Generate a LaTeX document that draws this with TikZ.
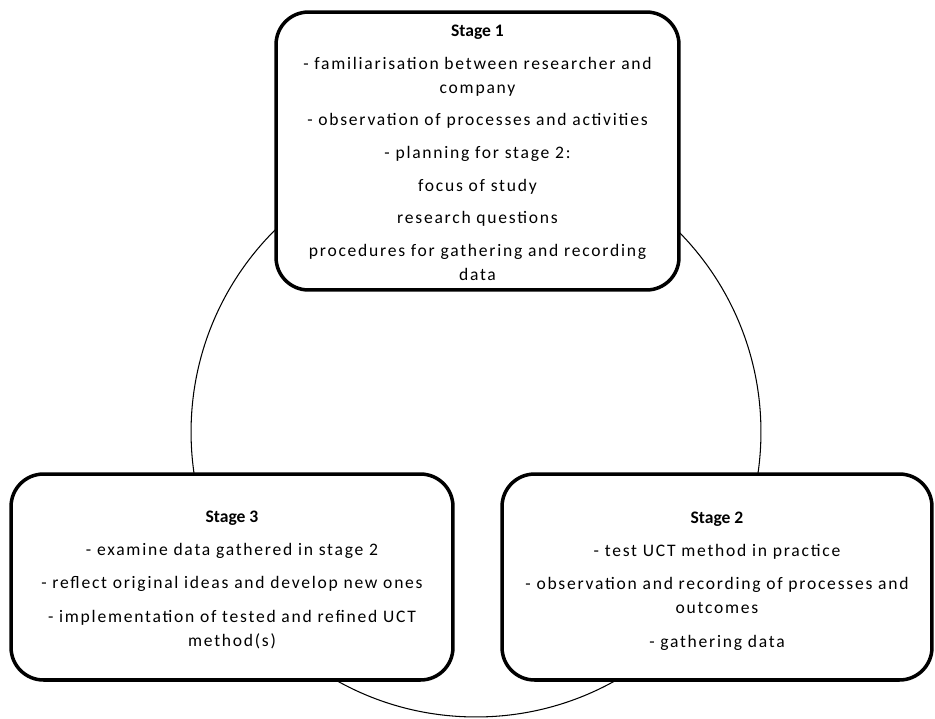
\documentclass[tikz,border=0pt]{standalone}
\usepackage{fontspec}
\setmainfont{Carlito}
\newfontfamily\stagefont[LetterSpace=10]{Carlito}
\newcommand{\stagehead}[1]{{\normalfont\bfseries #1}}
\usetikzlibrary{positioning}

\tikzset{
  stagebox/.style={draw, line width=2pt, rounded corners=0.65cm, fill=white, inner sep=0pt},
  stagetext/.style={align=center, inner sep=0pt, font=\fontsize{10}{13.6}\stagefont}
}

\begin{document}
\begin{tikzpicture}[x=0.02cm, y=-0.02cm]
  \useasboundingbox (0,0) rectangle (935,718);

  \draw[line width=0.6pt] (476,432) circle[radius=5.7cm];

  \node[stagebox, minimum width=8.06cm, minimum height=5.56cm] (s1) at (477.5,151) {};
  \node[stagebox, minimum width=8.84cm, minimum height=4.12cm] (s3) at (232,577) {};
  \node[stagebox, minimum width=8.6cm, minimum height=4.12cm] (s2) at (717,577) {};

  \node[stagetext, below=0.29cm of s1.north] (t1) {\stagehead{Stage 1}\\[5pt]
    - familiarisation between researcher and\\company\\[5pt]
    - observation of processes and activities\\[5pt]
    - planning for stage 2:\\[5pt]
    focus of study\\[5pt]
    research questions\\[5pt]
    procedures for gathering and recording\\data};
  \node[stagetext, below=0.76cm of s3.north] (t3) {\stagehead{Stage 3}\\[5.4pt]
    - examine data gathered in stage 2\\[5.4pt]
    - reflect original ideas and develop new ones\\[5.4pt]
    - implementation of tested and refined UCT\\method(s)};
  \node[stagetext, below=0.78cm of s2.north] (t2) {\stagehead{Stage 2}\\[5.4pt]
    - test UCT method in practice\\[5.4pt]
    - observation and recording of processes and\\outcomes\\[5.4pt]
    - gathering data};
\end{tikzpicture}
\end{document}
